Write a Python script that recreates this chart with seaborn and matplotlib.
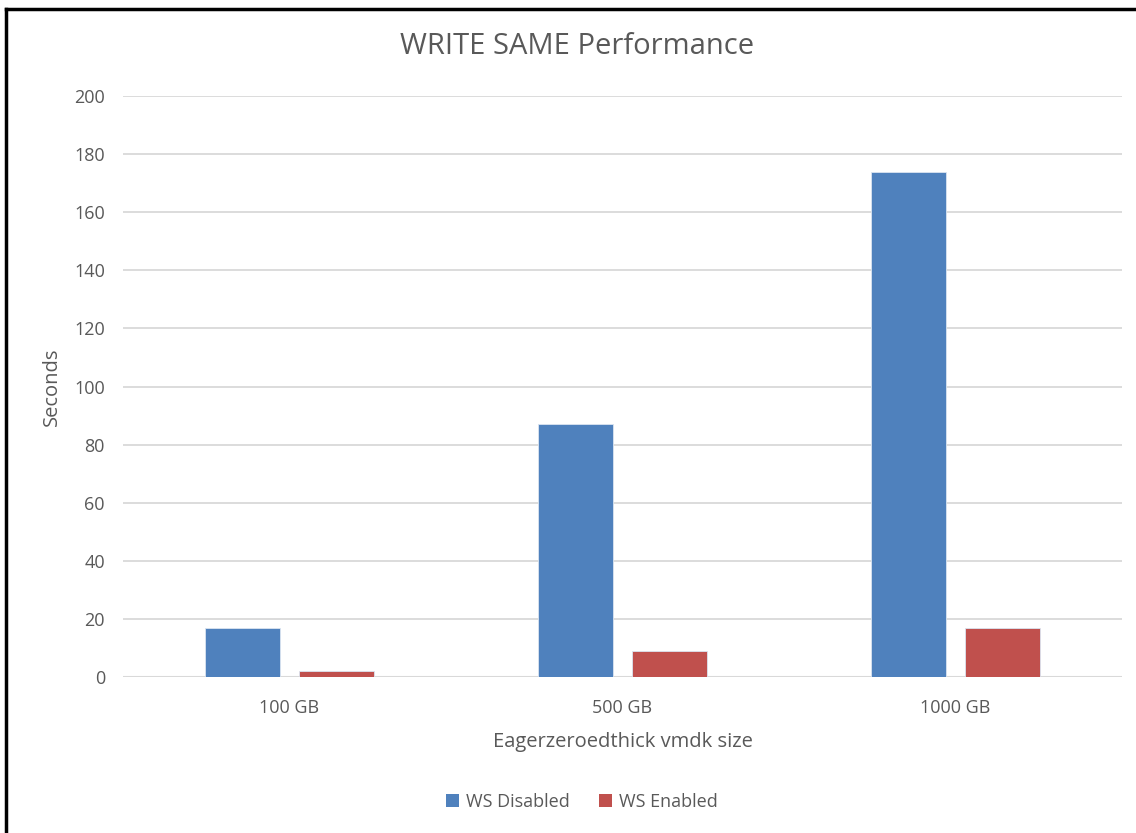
import matplotlib
matplotlib.use("Agg")
import matplotlib.pyplot as plt
import seaborn as sns
import pandas as pd
from matplotlib.lines import Line2D
from matplotlib.patches import Patch

# Data
sizes = ["100 GB", "500 GB", "1000 GB"]
ws_disabled = [17, 87, 174]
ws_enabled = [2, 9, 17]
series_names = ["WS Disabled", "WS Enabled"]
y_ticks = [0, 20, 40, 60, 80, 100, 120, 140, 160, 180, 200]

df = pd.DataFrame({
    "size": sizes * 2,
    "seconds": ws_disabled + ws_enabled,
    "series": [series_names[0]] * len(sizes) + [series_names[1]] * len(sizes),
})

sns.set_style("white")
plt.rcParams["font.family"] = ["Open Sans", "DejaVu Sans"]

text_color = "#595959"
colors = {"WS Disabled": "#4F81BD", "WS Enabled": "#C0504D"}

fig = plt.figure(figsize=(11.36, 8.33), dpi=100)
ax = fig.add_axes([123 / 1136, 1 - 677 / 833, (1122 - 123) / 1136, (677 - 96) / 833])

sns.barplot(data=df, x="size", y="seconds", hue="series", order=sizes,
            hue_order=series_names, palette=colors, saturation=1, width=0.565, gap=0.21,
            edgecolor="#dbe5f1", linewidth=0.6, legend=False, ax=ax)

ax.set_ylim(0, 200)
ax.set_xlim(-0.5, len(sizes) - 0.5)
ax.set_yticks(y_ticks)
ax.yaxis.grid(True, color="#d9d9d9", linewidth=1.3)
ax.set_axisbelow(True)
for s in ax.spines.values():
    s.set_visible(False)
ax.axhline(0, color="#d9d9d9", linewidth=1.5, zorder=0.5)
ax.tick_params(axis="both", length=0, colors=text_color, labelsize=13)
ax.tick_params(axis="y", pad=13)
ax.tick_params(axis="x", pad=16)

ax.set_xlabel("Eagerzeroedthick vmdk size", fontsize=14.5, color=text_color, labelpad=11)
ax.set_ylabel("Seconds", fontsize=14.5, color=text_color, labelpad=9)

fig.text(0.5 * (398 + 757) / 1136, 1 - 47 / 833, "WRITE SAME Performance",
         ha="center", va="center", fontsize=21, color=text_color)

handles = [Patch(facecolor=colors[n], edgecolor="none") for n in series_names]
fig.legend(handles, series_names, loc="center", bbox_to_anchor=(582 / 1136, 1 - 802 / 833),
           ncol=2, frameon=False, fontsize=13, labelcolor=text_color,
           handlelength=0.7, handleheight=0.7, handletextpad=0.4, columnspacing=1.6)

# Frame along the top and left edges
fig.add_artist(Line2D([6 / 1136, 6 / 1136], [0, 1 - 9 / 833], transform=fig.transFigure,
                      color="black", linewidth=2.5, solid_capstyle="projecting"))
fig.add_artist(Line2D([6 / 1136, 1.01], [1 - 9 / 833, 1 - 9 / 833], transform=fig.transFigure,
                      color="black", linewidth=2.5, solid_capstyle="projecting"))

fig.savefig("out.png", dpi=100)
